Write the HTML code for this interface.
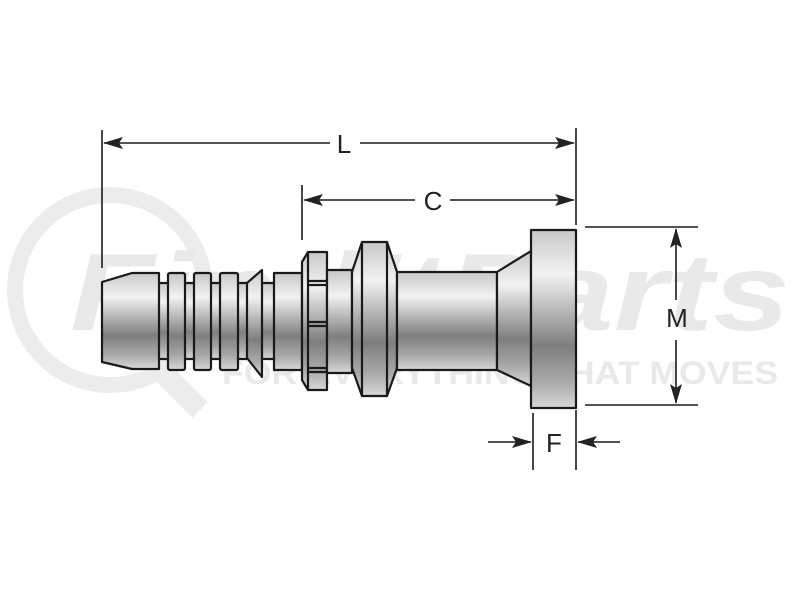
<!DOCTYPE html>
<html><head><meta charset="utf-8"><style>
html,body{margin:0;padding:0;background:#fff;}
svg{display:block;}
</style></head><body>
<svg width="800" height="600" viewBox="0 0 800 600" xmlns="http://www.w3.org/2000/svg" font-family="Liberation Sans, sans-serif">
<defs>
<linearGradient id="g" x1="0" y1="0" x2="0" y2="1">
<stop offset="0" stop-color="#c8c8c8"/>
<stop offset="0.25" stop-color="#f2f2f2"/>
<stop offset="0.45" stop-color="#b8b8b8"/>
<stop offset="0.65" stop-color="#7e7e7e"/>
<stop offset="0.85" stop-color="#a8a8a8"/>
<stop offset="1" stop-color="#d8d8d8"/>
</linearGradient>
<marker id="a" markerWidth="20" markerHeight="12" refX="19" refY="6" orient="auto" markerUnits="userSpaceOnUse" viewBox="0 0 20 12"><path d="M0,0 L20,6 L0,12 L4,6 z" fill="#222"/></marker>
</defs>
<!-- watermark -->
<g fill="none" stroke="#ececec" stroke-width="16">
<circle cx="110" cy="290" r="95"/>
<line x1="160" y1="370" x2="200" y2="410" stroke-width="22"/>
</g>
<text x="70" y="330" font-size="110" font-weight="bold" font-style="italic" fill="#e9e9e9" textLength="720" lengthAdjust="spacingAndGlyphs">FindItParts</text>
<text x="222" y="384" font-size="32" font-weight="bold" fill="#e9e9e9" textLength="556" lengthAdjust="spacingAndGlyphs">FOR EVERYTHING THAT MOVES</text>

<g stroke="#1a1a1a" stroke-width="2.2" fill="url(#g)" stroke-linejoin="round">
<rect x="150" y="283" width="160" height="76"/>
<path d="M102,282 L132,273 L159,273 L159,369 L132,369 L102,362 Z"/>
<rect x="168" y="273" width="17" height="97" rx="2"/>
<rect x="194" y="273" width="17" height="97" rx="2"/>
<rect x="220" y="273" width="18" height="97" rx="2"/>
<path d="M247,283 L262,270 L262,377 L247,358 Z"/>
<rect x="274" y="273" width="28" height="97"/>
<path d="M302,262 L308,252 L327,252 L327,390 L308,390 L302,380 Z"/>
<line x1="308" y1="252" x2="308" y2="390"/>
<line x1="308" y1="281" x2="327" y2="281"/>
<line x1="308" y1="285" x2="327" y2="285"/>
<line x1="308" y1="322" x2="327" y2="322"/>
<line x1="308" y1="326" x2="327" y2="326"/>
<line x1="308" y1="368" x2="327" y2="368"/>
<line x1="308" y1="372" x2="327" y2="372"/>
<rect x="327" y="270" width="25" height="103"/>
<path d="M352,272 L362,242 L387,242 L397,272 L397,368 L387,396 L362,396 L352,368 Z"/>
<line x1="362" y1="242" x2="362" y2="396"/>
<line x1="387" y1="242" x2="387" y2="396"/>
<rect x="397" y="272" width="100" height="98"/>
<path d="M497,272 L531,251 L531,386 L497,370 Z"/>
<rect x="531" y="230" width="45" height="178"/>
</g>

<g stroke="#1a1a1a" stroke-width="1.6" fill="none">
<line x1="102" y1="130" x2="102" y2="268"/>
<line x1="302" y1="185" x2="302" y2="240"/>
<line x1="576" y1="128" x2="576" y2="225"/>
<line x1="576" y1="410" x2="576" y2="470"/>
<line x1="533" y1="413" x2="533" y2="470"/>
<line x1="585" y1="227" x2="698" y2="227"/>
<line x1="585" y1="405" x2="698" y2="405"/>
<line x1="330" y1="143" x2="104" y2="143" marker-end="url(#a)"/>
<line x1="360" y1="143" x2="574" y2="143" marker-end="url(#a)"/>
<line x1="415" y1="200" x2="304" y2="200" marker-end="url(#a)"/>
<line x1="450" y1="200" x2="574" y2="200" marker-end="url(#a)"/>
<line x1="676" y1="300" x2="676" y2="229" marker-end="url(#a)"/>
<line x1="676" y1="340" x2="676" y2="403" marker-end="url(#a)"/>
<line x1="488" y1="442" x2="531" y2="442" marker-end="url(#a)"/>
<line x1="620" y1="442" x2="578" y2="442" marker-end="url(#a)"/>
</g>
<g fill="#222" font-size="26" text-anchor="middle">
<text x="344" y="153">L</text>
<text x="433" y="210">C</text>
<text x="677" y="327">M</text>
<text x="554" y="452">F</text>
</g>
</svg>
</body></html>
